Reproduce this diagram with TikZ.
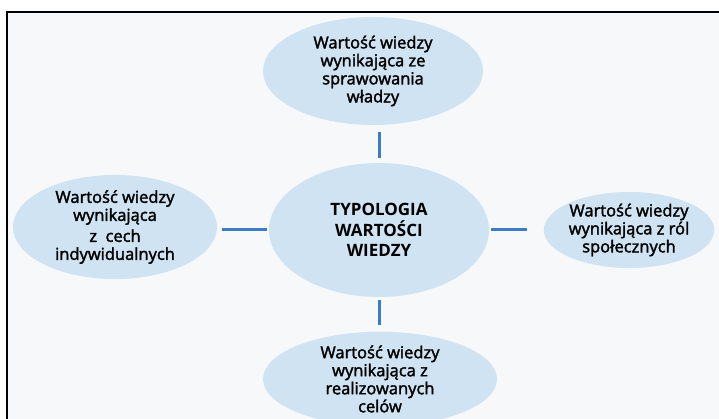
\documentclass[tikz,border=0pt]{standalone}
\usepackage{fontspec}
\setmainfont{Open Sans}
\newfontfamily\grubas{Open Sans}[FakeBold=2]
\usepackage{tikz}
\usetikzlibrary{shapes.geometric}

\definecolor{tlo}{HTML}{F7F8FA}
\definecolor{elipsa}{HTML}{CFE3F3}
\definecolor{linia}{HTML}{3C7BC6}

\tikzset{
  wartosc/.style={ellipse, fill=elipsa, align=center, inner sep=0pt,
    font=\fontsize{16.5}{18}\selectfont\grubas, text=black},
  typologia/.style={wartosc, font=\fontsize{17}{20.5}\selectfont\normalfont\bfseries},
  lacznik/.style={linia, line width=3pt}
}

\begin{document}
\begin{tikzpicture}[x=1pt,y=-1pt]
  \useasboundingbox (0,0) rectangle (719,419);
  \fill[white] (0,0) rectangle (719,419);
  \fill[tlo] (7,12) rectangle (719,419);
  \draw[line width=2pt] (7,419) -- (7,12) -- (719,12);

  % srodek i cztery wartosci
  \node[typologia, minimum width=220pt, minimum height=134pt] (typ) at (379,230)
    {TYPOLOGIA\\WARTOŚCI\\WIEDZY};
  \node[wartosc, minimum width=220pt, minimum height=108pt] (gora) at (373,71)
    {Wartość wiedzy\\wynikająca ze\\sprawowania\\władzy};
  \node[wartosc, minimum width=204pt, minimum height=102pt] (lewa) at (115,227)
    {Wartość wiedzy\\wynikająca\\[3pt] z\ \ cech\\indywidualnych};
  \node[wartosc, minimum width=168pt, minimum height=76pt] (prawa) at (629,230)
    {Wartość wiedzy\\wynikająca z ról\\społecznych};
  \node[wartosc, minimum width=234pt, minimum height=94pt] (dol) at (380,379)
    {Wartość wiedzy\\wynikająca z\\realizowanych\\celów};

  \draw[lacznik, shorten <=5pt, shorten >=7pt] (typ.north) -- (typ.north |- gora.south);
  \draw[lacznik, shorten <=2pt, shorten >=5pt] (typ.west) -- (typ.west -| lewa.east);
  \draw[lacznik, shorten <=2pt, shorten >=17pt] (typ.east) -- (typ.east -| prawa.west);
  \draw[lacznik, shorten <=3pt, shorten >=7pt] (typ.south) -- (typ.south |- dol.north);
\end{tikzpicture}
\end{document}
